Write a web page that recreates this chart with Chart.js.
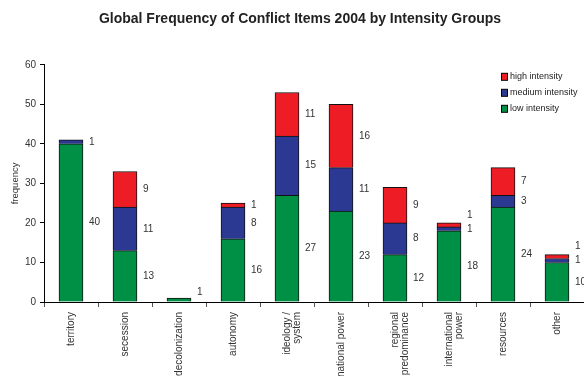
<!DOCTYPE html>
<html>
<head>
<meta charset="utf-8">
<script src="https://cdn.jsdelivr.net/npm/chart.js@4/dist/chart.umd.min.js"></script>
<style>
  html, body { margin: 0; padding: 0; background: #fff; overflow: hidden; }
  #wrap { width: 584px; height: 376px; overflow: hidden; position: relative; }
  canvas { display: block; }
</style>
</head>
<body>
<div id="wrap"><canvas id="c" width="600" height="376"></canvas></div>
<script>
// Conflict items, 2004
const categories = [
  'territory', 'secession', 'decolonization', 'autonomy',
  ['ideology /', 'system'], 'national power', ['regional', 'predominance'],
  ['international', 'power'], 'resources', 'other'
];
const lowIntensity    = [40, 13, 1, 16, 27, 23, 12, 18, 24, 10];
const mediumIntensity = [ 1, 11, 0,  8, 15, 11,  8,  1,  3,  1];
const highIntensity   = [ 0,  9, 0,  1, 11, 16,  9,  1,  7,  1];
const yTicks = [0, 10, 20, 30, 40, 50, 60];

const FONT = "'Liberation Sans', Arial, sans-serif";
const TEXT = '#333';

// value labels to the right of each stacked segment, nudged apart when crowded
const valueLabels = {
  id: 'valueLabels',
  afterDatasetsDraw(chart) {
    const ctx = chart.ctx;
    const yScale = chart.scales.y;
    const base = yScale.getPixelForValue(0);
    ctx.save();
    ctx.font = '10px ' + FONT;
    ctx.fillStyle = TEXT;
    ctx.textAlign = 'left';
    ctx.textBaseline = 'middle';
    const n = chart.data.labels.length;
    for (let i = 0; i < n; i++) {
      let prevY = base - 10 + 14;
      chart.data.datasets.forEach((ds, d) => {
        const v = ds.data[i];
        if (!v) return;
        const bar = chart.getDatasetMeta(d).data[i];
        const mid = (bar.y + bar.base) / 2;
        const y = Math.min(mid, prevY - 14);
        prevY = y;
        ctx.fillText(String(v), bar.x + bar.width / 2 + 6, y);
      });
    }
    ctx.restore();
  }
};

// legend box in the upper right of the plot, highest intensity first
const cornerLegend = {
  id: 'cornerLegend',
  afterDraw(chart) {
    const ctx = chart.ctx;
    const area = chart.chartArea;
    const x = area.right - 83;
    let y = area.top + 12;
    ctx.save();
    ctx.font = '9px ' + FONT;
    ctx.textBaseline = 'middle';
    ctx.textAlign = 'left';
    const sets = chart.data.datasets.slice().reverse();
    sets.forEach(ds => {
      ctx.fillStyle = ds.backgroundColor;
      ctx.fillRect(x, y - 3.5, 6, 7);
      ctx.strokeStyle = '#000';
      ctx.lineWidth = 1;
      ctx.strokeRect(x + 0.5, y - 3.5, 6, 7);
      ctx.fillStyle = '#222';
      ctx.fillText(ds.label, x + 9, y);
      y += 16;
    });
    ctx.restore();
  }
};

new Chart(document.getElementById('c'), {
  type: 'bar',
  data: {
    labels: categories,
    datasets: [
      { label: 'low intensity',    data: lowIntensity,    backgroundColor: '#009045' },
      { label: 'medium intensity', data: mediumIntensity, backgroundColor: '#2B3992' },
      { label: 'high intensity',   data: highIntensity,   backgroundColor: '#EE1D25' }
    ].map(ds => Object.assign(ds, {
      borderColor: '#111', borderWidth: 1, borderSkipped: 'start',
      barThickness: 24
    }))
  },
  options: {
    responsive: false,
    animation: false,
    layout: { padding: { left: 16, right: 16, top: 0, bottom: 0 } },
    plugins: {
      legend: { display: false },
      tooltip: { enabled: false },
      title: {
        display: true,
        text: 'Global Frequency of Conflict Items 2004 by Intensity Groups',
        color: '#222',
        font: { family: FONT, size: 14, weight: 'bold' },
        padding: { top: 11, bottom: 37 }
      }
    },
    scales: {
      x: {
        stacked: true,
        grid: { drawOnChartArea: false, drawTicks: true, tickLength: 5, color: '#555', offset: true },
        border: { color: '#000', width: 1 },
        ticks: {
          color: TEXT, font: { family: FONT, size: 10, lineHeight: 1.05 },
          minRotation: 90, maxRotation: 90, autoSkip: false, padding: 5
        },
        afterFit(scale) { scale.height = 74; }
      },
      y: {
        stacked: true,
        min: 0, max: 60,
        afterBuildTicks(scale) { scale.ticks = yTicks.map(v => ({ value: v })); },
        grid: { drawOnChartArea: false, drawTicks: true, tickLength: 4, color: '#000' },
        border: { color: '#000', width: 1 },
        ticks: { color: TEXT, font: { family: FONT, size: 10 }, padding: 4 },
        title: {
          display: true, text: 'frequency', color: TEXT,
          font: { family: FONT, size: 9.5 }, padding: { top: -6.7, bottom: 0 }
        },
        afterFit(scale) { scale.width = 28; }
      }
    }
  },
  plugins: [valueLabels, cornerLegend]
});
</script>
</body>
</html>
